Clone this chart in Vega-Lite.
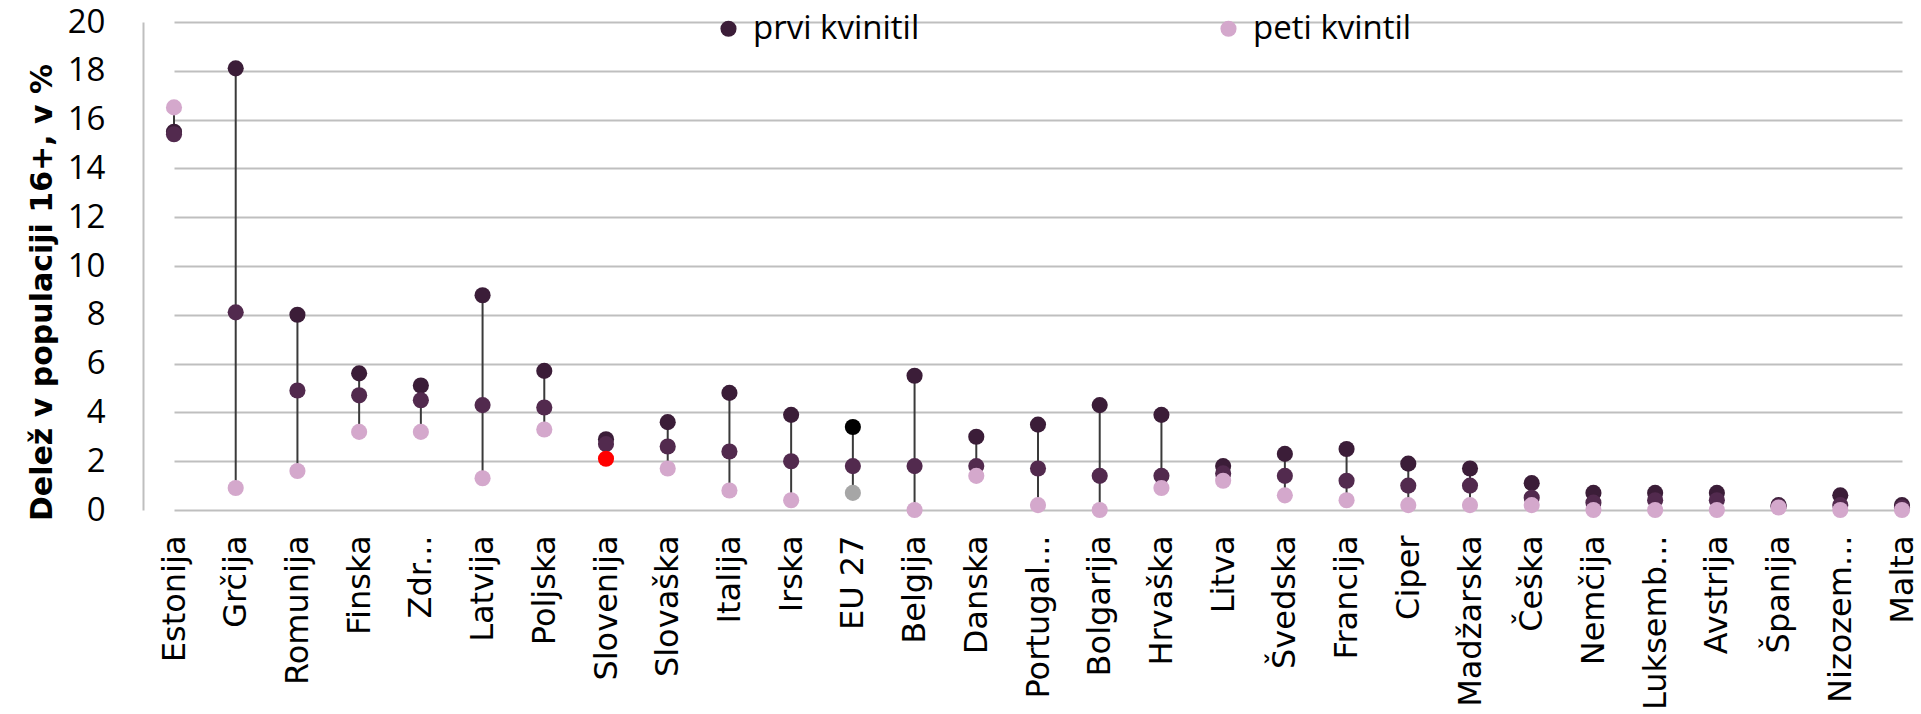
{
  "$schema": "https://vega.github.io/schema/vega-lite/v6.json",
  "autosize": {"type": "none"},
  "width": 1778,
  "height": 488,
  "padding": {"left": 143, "top": 22, "right": 0, "bottom": 204},
  "background": "white",
  "config": {"view": {"stroke": null}},
  "data": {
    "values": [
      {"drzava": "Estonija", "prvi": 15.5, "skupaj": 15.4, "peti": 16.5},
      {"drzava": "Grčija", "prvi": 18.1, "skupaj": 8.1, "peti": 0.9},
      {"drzava": "Romunija", "prvi": 8.0, "skupaj": 4.9, "peti": 1.6},
      {"drzava": "Finska", "prvi": 5.6, "skupaj": 4.7, "peti": 3.2},
      {"drzava": "Zdr...", "prvi": 5.1, "skupaj": 4.5, "peti": 3.2},
      {"drzava": "Latvija", "prvi": 8.8, "skupaj": 4.3, "peti": 1.3},
      {"drzava": "Poljska", "prvi": 5.7, "skupaj": 4.2, "peti": 3.3},
      {"drzava": "Slovenija", "prvi": 2.9, "skupaj": 2.7, "peti": 2.1},
      {"drzava": "Slovaška", "prvi": 3.6, "skupaj": 2.6, "peti": 1.7},
      {"drzava": "Italija", "prvi": 4.8, "skupaj": 2.4, "peti": 0.8},
      {"drzava": "Irska", "prvi": 3.9, "skupaj": 2.0, "peti": 0.4},
      {"drzava": "EU 27", "prvi": 3.4, "skupaj": 1.8, "peti": 0.7},
      {"drzava": "Belgija", "prvi": 5.5, "skupaj": 1.8, "peti": 0.0},
      {"drzava": "Danska", "prvi": 3.0, "skupaj": 1.8, "peti": 1.4},
      {"drzava": "Portugal...", "prvi": 3.5, "skupaj": 1.7, "peti": 0.2},
      {"drzava": "Bolgarija", "prvi": 4.3, "skupaj": 1.4, "peti": 0.0},
      {"drzava": "Hrvaška", "prvi": 3.9, "skupaj": 1.4, "peti": 0.9},
      {"drzava": "Litva", "prvi": 1.8, "skupaj": 1.5, "peti": 1.2},
      {"drzava": "Švedska", "prvi": 2.3, "skupaj": 1.4, "peti": 0.6},
      {"drzava": "Francija", "prvi": 2.5, "skupaj": 1.2, "peti": 0.4},
      {"drzava": "Ciper", "prvi": 1.9, "skupaj": 1.0, "peti": 0.2},
      {"drzava": "Madžarska", "prvi": 1.7, "skupaj": 1.0, "peti": 0.2},
      {"drzava": "Češka", "prvi": 1.1, "skupaj": 0.5, "peti": 0.2},
      {"drzava": "Nemčija", "prvi": 0.7, "skupaj": 0.3, "peti": 0.0},
      {"drzava": "Luksemb...", "prvi": 0.7, "skupaj": 0.4, "peti": 0.0},
      {"drzava": "Avstrija", "prvi": 0.7, "skupaj": 0.4, "peti": 0.0},
      {"drzava": "Španija", "prvi": 0.2, "skupaj": 0.15, "peti": 0.1},
      {"drzava": "Nizozem...", "prvi": 0.6, "skupaj": 0.2, "peti": 0.0},
      {"drzava": "Malta", "prvi": 0.2, "skupaj": 0.1, "peti": 0.0}
    ]
  },
  "transform": [{"fold": ["prvi", "skupaj", "peti"], "as": ["serija", "vrednost"]}],
  "encoding": {
    "x": {
      "field": "drzava",
      "type": "nominal",
      "sort": null,
      "scale": {"type": "point", "padding": 0, "range": [31, 1759]},
      "axis": {
        "title": null,
        "labelAngle": -90,
        "labelFont": "DejaVu Sans",
        "labelFontSize": 32,
        "labelColor": "#000000",
        "labelPadding": 25,
        "labelLimit": 0,
        "ticks": false,
        "domain": false,
        "grid": false
      }
    }
  },
  "layer": [
    {
      "mark": {"type": "rule", "color": "#3a3a3a", "strokeWidth": 2},
      "encoding": {
        "y": {
          "aggregate": "min",
          "field": "vrednost",
          "type": "quantitative",
          "scale": {"domain": [0, 20], "nice": false},
          "axis": {
            "title": "Delež v populaciji 16+, v %",
            "titleFont": "DejaVu Sans",
            "titleFontWeight": "bold",
            "titleFontSize": 30,
            "titleColor": "#000000",
            "titleAngle": -90,
            "titleBaseline": "alphabetic",
            "titleAlign": "center",
            "titleX": -92,
            "titleY": 270,
            "values": [0, 2, 4, 6, 8, 10, 12, 14, 16, 18, 20],
            "labelFont": "Open Sans",
            "labelFontSize": 33,
            "labelColor": "#000000",
            "labelPadding": 38,
            "ticks": false,
            "domainColor": "#bfbfbf",
            "domainWidth": 2,
            "gridColor": "#bfbfbf",
            "gridWidth": 2
          }
        },
        "y2": {"aggregate": "max", "field": "vrednost"}
      }
    },
    {
      "mark": {"type": "circle", "opacity": 1},
      "encoding": {
        "y": {"field": "vrednost", "type": "quantitative"},
        "size": {
          "field": "serija",
          "type": "nominal",
          "scale": {"domain": ["prvi", "skupaj", "peti"], "range": [260, 260, 330]},
          "legend": null
        },
        "color": {
          "condition": [
            {"test": "datum.drzava === 'Slovenija' && datum.serija === 'peti'", "value": "#ff0000"},
            {"test": "datum.drzava === 'EU 27' && datum.serija === 'prvi'", "value": "#000000"},
            {"test": "datum.drzava === 'EU 27' && datum.serija === 'peti'", "value": "#a6a6a6"}
          ],
          "field": "serija",
          "type": "nominal",
          "scale": {"domain": ["prvi", "skupaj", "peti"], "range": ["#3b1d38", "#522a4e", "#d4a8cc"]},
          "legend": {
            "values": ["prvi", "peti"],
            "title": null,
            "orient": "none",
            "direction": "horizontal",
            "legendX": 569,
            "legendY": -10,
            "labelExpr": "datum.label === 'prvi' ? 'prvi kvinitil' : 'peti kvintil'",
            "labelFont": "Open Sans",
            "labelFontSize": 33,
            "labelColor": "#000000",
            "labelOffset": 8,
            "labelLimit": 0,
            "symbolType": "circle",
            "symbolSize": 150,
            "symbolStrokeWidth": 0,
            "columnPadding": 292
          }
        }
      }
    }
  ]
}
